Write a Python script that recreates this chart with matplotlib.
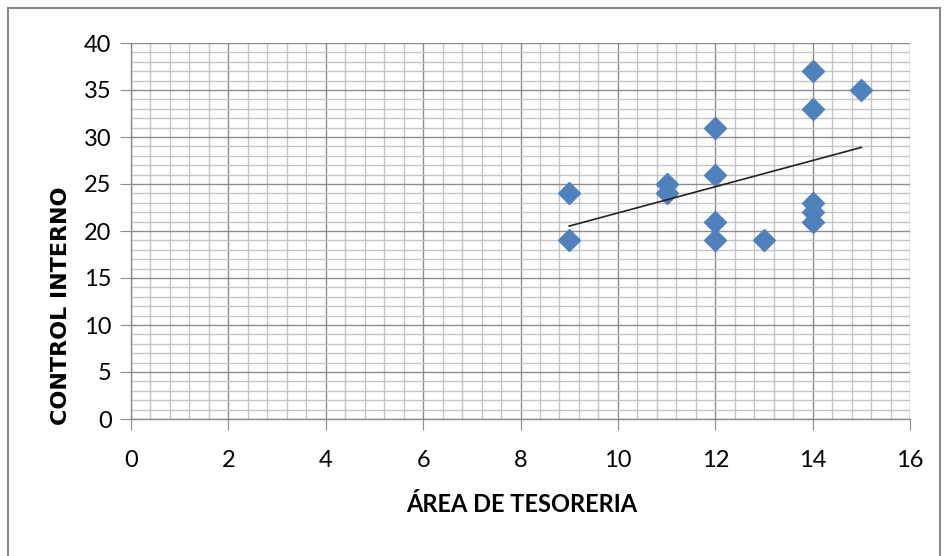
import numpy as np
import matplotlib.pyplot as plt
from matplotlib.ticker import MultipleLocator
from matplotlib.patches import Rectangle

# data
area_tesoreria = [9, 9, 11, 11, 12, 12, 12, 12, 13, 14, 14, 14, 14, 14, 15]
control_interno = [24, 19, 25, 24, 31, 26, 21, 19, 19, 37, 33, 23, 22, 21, 35]

plt.rcParams['font.family'] = ['Lato', 'DejaVu Sans']

fig = plt.figure(figsize=(9.44, 5.56), dpi=100)
ax = fig.add_axes([131/944, 1 - 419/556, (910-131)/944, (419-43)/556])

# outer frame of the chart area
fig.patches.append(Rectangle((8/944, -0.05), (940-8)/944, 1.05 - 8/556,
                             transform=fig.transFigure, fill=False,
                             edgecolor='#8a8a8a', linewidth=1.5))

ax.set_xlim(0, 16)
ax.set_ylim(0, 40)
ax.xaxis.set_major_locator(MultipleLocator(2))
ax.xaxis.set_minor_locator(MultipleLocator(0.4))
ax.yaxis.set_major_locator(MultipleLocator(5))
ax.yaxis.set_minor_locator(MultipleLocator(1))
ax.grid(which='minor', color='#c4c4c4', linewidth=1.0)
ax.grid(which='major', color='#8c8c8c', linewidth=1.0)
ax.set_axisbelow(True)

for s in ['top', 'right']:
    ax.spines[s].set_visible(False)
for s in ['left', 'bottom']:
    ax.spines[s].set_color('#8c8c8c')
    ax.spines[s].set_linewidth(1.0)

ax.tick_params(which='major', direction='out', length=8, color='#8c8c8c',
               labelsize=17, pad=6)
ax.tick_params(which='minor', length=0)
ax.tick_params(axis='x', pad=14)

ax.plot(area_tesoreria, control_interno, linestyle='none', marker='D',
        markersize=11, color='#4f81bd', zorder=3)

# linear trend line
m, b = np.polyfit(area_tesoreria, control_interno, 1)
xs = np.array([min(area_tesoreria), max(area_tesoreria)])
ax.plot(xs, m * xs + b, color='#222222', linewidth=1.2, zorder=4)

fig.text(522/944, 1 - 505/556, 'ÁREA DE TESORERIA', fontsize=17,
         fontweight='bold', ha='center', va='center')
fig.text(61/944, 1 - 306/556, 'CONTROL INTERNO', rotation=90, fontsize=16,
         fontweight='bold', family=['DejaVu Sans'], ha='center', va='center')

fig.savefig('out.png', dpi=100)
